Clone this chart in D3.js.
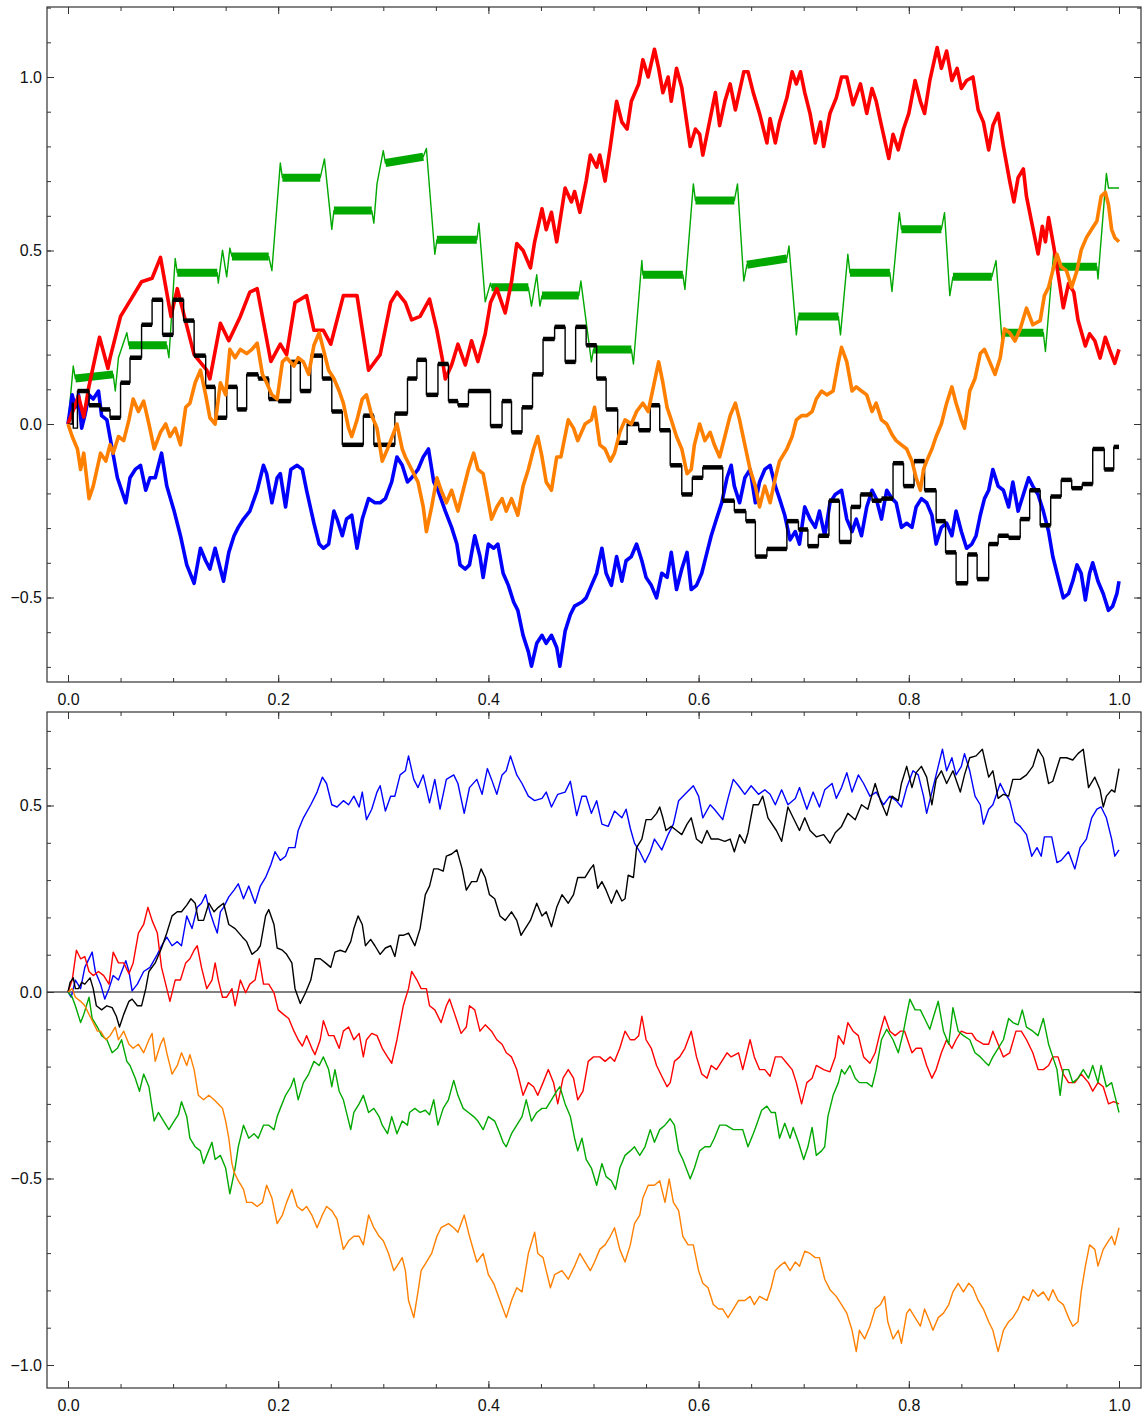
<!DOCTYPE html>
<html>
<head>
<meta charset="utf-8">
<script src="https://cdn.jsdelivr.net/npm/d3@7"></script>
<style>
  body { margin: 0; background: #fff; }
  text { font-family: "Liberation Sans", Arial, sans-serif; }
</style>
</head>
<body>
<div id="chart"></div>
<script>
// Tick values
var xMajor = [0, 0.2, 0.4, 0.6, 0.8, 1.0];
var xMinor = d3.range(0, 21).map(function(i) { return i * 0.05; });
var topYMajor = [-0.5, 0, 0.5, 1.0];
var topYMinor = d3.range(-7, 13).map(function(i) { return i / 10; });
var botYMajor = [-1.0, -0.5, 0, 0.5];
var botYMinor = d3.range(-10, 8).map(function(i) { return i / 10; });

// Top panel series, [t, value]
var topRed = [[0,0],[0.010,0.08],[0.015,0.02],[0.020,0.11],[0.030,0.25],[0.038,0.16],[0.040,0.19],[0.050,0.31],[0.060,0.36],[0.070,0.41],[0.080,0.42],[0.088,0.48],[0.098,0.31],[0.104,0.39],[0.120,0.20],[0.132,0.155],[0.135,0.13],[0.145,0.29],[0.153,0.24],[0.164,0.31],[0.173,0.38],[0.180,0.39],[0.193,0.18],[0.202,0.23],[0.208,0.20],[0.216,0.35],[0.227,0.37],[0.234,0.27],[0.243,0.27],[0.250,0.23],[0.262,0.37],[0.275,0.37],[0.286,0.155],[0.297,0.20],[0.307,0.35],[0.313,0.38],[0.321,0.35],[0.327,0.30],[0.335,0.31],[0.344,0.36],[0.351,0.27],[0.356,0.19],[0.359,0.13],[0.365,0.17],[0.371,0.23],[0.378,0.17],[0.384,0.24],[0.390,0.18],[0.397,0.26],[0.402,0.35],[0.408,0.39],[0.416,0.32],[0.422,0.41],[0.427,0.52],[0.433,0.50],[0.440,0.45],[0.444,0.525],[0.451,0.62],[0.455,0.56],[0.460,0.61],[0.465,0.525],[0.473,0.68],[0.479,0.64],[0.482,0.67],[0.487,0.61],[0.493,0.70],[0.497,0.775],[0.503,0.74],[0.506,0.775],[0.511,0.70],[0.516,0.80],[0.522,0.93],[0.527,0.87],[0.532,0.85],[0.536,0.93],[0.543,0.98],[0.547,1.05],[0.552,1.00],[0.558,1.08],[0.562,1.025],[0.566,0.955],[0.571,1.00],[0.574,0.93],[0.579,1.025],[0.584,0.97],[0.592,0.80],[0.597,0.85],[0.601,0.835],[0.604,0.775],[0.609,0.85],[0.616,0.955],[0.620,0.86],[0.625,0.93],[0.630,0.98],[0.635,0.905],[0.643,1.015],[0.647,1.015],[0.652,0.955],[0.658,0.895],[0.665,0.81],[0.668,0.88],[0.673,0.81],[0.677,0.87],[0.684,0.94],[0.689,1.015],[0.693,0.98],[0.697,1.015],[0.701,0.955],[0.706,0.895],[0.711,0.81],[0.716,0.87],[0.719,0.80],[0.725,0.895],[0.731,0.94],[0.736,1.0],[0.741,1.0],[0.747,0.92],[0.754,0.98],[0.760,0.895],[0.765,0.967],[0.769,0.93],[0.774,0.86],[0.781,0.765],[0.785,0.835],[0.790,0.79],[0.795,0.85],[0.800,0.895],[0.806,0.99],[0.811,0.93],[0.815,0.895],[0.820,0.99],[0.827,1.085],[0.831,1.025],[0.836,1.075],[0.841,0.99],[0.846,1.025],[0.850,0.967],[0.855,0.99],[0.861,1.0],[0.866,0.905],[0.871,0.87],[0.876,0.79],[0.880,0.86],[0.885,0.895],[0.890,0.80],[0.896,0.70],[0.900,0.64],[0.904,0.71],[0.909,0.735],[0.912,0.655],[0.919,0.55],[0.923,0.49],[0.927,0.57],[0.930,0.525],[0.933,0.595],[0.938,0.51],[0.944,0.395],[0.947,0.335],[0.952,0.405],[0.957,0.38],[0.961,0.30],[0.968,0.225],[0.972,0.26],[0.977,0.24],[0.982,0.19],[0.987,0.25],[0.991,0.215],[0.996,0.175],[1.0,0.215]];

var topGreen = [[0,0],[0.005,0.167],[0.007,0.131],[0.043,0.143],[0.045,0.095],[0.048,0.191],[0.056,0.263],[0.058,0.227],[0.094,0.227],[0.096,0.191],[0.102,0.477],[0.104,0.436],[0.142,0.436],[0.143,0.406],[0.147,0.501],[0.151,0.424],[0.154,0.507],[0.156,0.483],[0.191,0.483],[0.194,0.442],[0.202,0.752],[0.204,0.710],[0.240,0.710],[0.244,0.764],[0.251,0.561],[0.253,0.615],[0.289,0.615],[0.291,0.579],[0.294,0.692],[0.300,0.788],[0.302,0.752],[0.338,0.770],[0.341,0.794],[0.349,0.489],[0.351,0.531],[0.389,0.531],[0.391,0.579],[0.397,0.352],[0.402,0.406],[0.403,0.394],[0.438,0.394],[0.441,0.340],[0.446,0.430],[0.449,0.340],[0.451,0.370],[0.486,0.370],[0.488,0.412],[0.498,0.179],[0.500,0.215],[0.536,0.215],[0.538,0.173],[0.546,0.471],[0.547,0.430],[0.585,0.430],[0.587,0.388],[0.595,0.692],[0.597,0.644],[0.634,0.644],[0.637,0.692],[0.643,0.412],[0.646,0.459],[0.684,0.477],[0.686,0.513],[0.693,0.257],[0.695,0.310],[0.733,0.310],[0.735,0.257],[0.742,0.489],[0.744,0.436],[0.782,0.436],[0.784,0.382],[0.791,0.609],[0.793,0.561],[0.831,0.561],[0.834,0.609],[0.839,0.370],[0.842,0.424],[0.879,0.424],[0.883,0.471],[0.889,0.227],[0.891,0.263],[0.928,0.263],[0.930,0.209],[0.938,0.501],[0.940,0.453],[0.979,0.453],[0.980,0.418],[0.988,0.722],[0.990,0.680],[1.0,0.680]];

// black is a step path: each pair is the start of a level
var topBlack = [[0,0],[0.004,0.06],[0.005,-0.012],[0.009,0.095],[0.020,0.054],[0.031,0.042],[0.040,0.018],[0.050,0.119],[0.059,0.191],[0.070,0.286],[0.080,0.358],[0.090,0.257],[0.100,0.358],[0.110,0.298],[0.120,0.197],[0.131,0.107],[0.140,0.018],[0.151,0.107],[0.161,0.042],[0.170,0.143],[0.181,0.131],[0.191,0.072],[0.200,0.066],[0.212,0.179],[0.221,0.095],[0.231,0.197],[0.242,0.131],[0.251,0.036],[0.261,-0.060],[0.281,0.024],[0.291,-0.060],[0.311,0.030],[0.323,0.131],[0.332,0.185],[0.341,0.084],[0.352,0.173],[0.362,0.066],[0.371,0.054],[0.381,0.095],[0.402,-0.006],[0.413,0.066],[0.422,-0.024],[0.432,0.048],[0.442,0.143],[0.452,0.245],[0.463,0.280],[0.473,0.179],[0.483,0.280],[0.493,0.227],[0.503,0.131],[0.512,0.042],[0.523,-0.054],[0.532,0.0],[0.543,-0.018],[0.554,0.054],[0.563,-0.018],[0.573,-0.119],[0.584,-0.203],[0.594,-0.155],[0.604,-0.125],[0.623,-0.221],[0.634,-0.251],[0.645,-0.280],[0.654,-0.382],[0.665,-0.36],[0.684,-0.280],[0.695,-0.304],[0.704,-0.352],[0.714,-0.322],[0.724,-0.221],[0.734,-0.340],[0.745,-0.239],[0.754,-0.203],[0.765,-0.221],[0.774,-0.215],[0.785,-0.113],[0.795,-0.179],[0.805,-0.107],[0.815,-0.191],[0.826,-0.280],[0.835,-0.370],[0.845,-0.459],[0.856,-0.376],[0.865,-0.447],[0.876,-0.346],[0.885,-0.322],[0.895,-0.328],[0.906,-0.274],[0.915,-0.191],[0.925,-0.292],[0.935,-0.209],[0.945,-0.161],[0.955,-0.185],[0.965,-0.173],[0.975,-0.072],[0.986,-0.131],[0.995,-0.066],[1.0,-0.066]];

var topOrange = [[0,0],[0.004,-0.036],[0.009,-0.072],[0.012,-0.131],[0.015,-0.084],[0.020,-0.215],[0.024,-0.179],[0.031,-0.084],[0.036,-0.107],[0.040,-0.060],[0.043,-0.084],[0.048,-0.036],[0.053,-0.048],[0.058,0.012],[0.062,0.072],[0.067,0.036],[0.072,0.066],[0.077,0],[0.082,-0.072],[0.088,-0.024],[0.093,0],[0.097,-0.036],[0.102,-0.012],[0.107,-0.060],[0.112,0.048],[0.116,0.060],[0.121,0.119],[0.126,0.155],[0.131,0.084],[0.135,0.018],[0.140,0],[0.145,0.119],[0.150,0.084],[0.154,0.215],[0.159,0.191],[0.164,0.215],[0.170,0.203],[0.175,0.215],[0.180,0.233],[0.185,0.143],[0.189,0.119],[0.194,0.084],[0.199,0.072],[0.204,0.179],[0.208,0.191],[0.215,0.167],[0.219,0.191],[0.224,0.179],[0.229,0.143],[0.234,0.227],[0.239,0.263],[0.243,0.215],[0.248,0.155],[0.253,0.131],[0.258,0.095],[0.262,0.060],[0.267,-0.012],[0.270,-0.036],[0.275,0.012],[0.280,0.072],[0.284,0.084],[0.289,0.024],[0.294,-0.012],[0.299,-0.107],[0.304,-0.072],[0.310,-0.024],[0.313,0],[0.318,-0.072],[0.321,-0.095],[0.327,-0.131],[0.333,-0.167],[0.338,-0.239],[0.341,-0.310],[0.346,-0.239],[0.351,-0.155],[0.355,-0.191],[0.360,-0.227],[0.365,-0.191],[0.371,-0.251],[0.376,-0.191],[0.381,-0.131],[0.386,-0.084],[0.390,-0.131],[0.395,-0.143],[0.398,-0.191],[0.403,-0.274],[0.408,-0.239],[0.413,-0.215],[0.417,-0.251],[0.422,-0.215],[0.428,-0.263],[0.433,-0.179],[0.438,-0.131],[0.443,-0.072],[0.447,-0.036],[0.451,-0.095],[0.455,-0.167],[0.460,-0.191],[0.465,-0.095],[0.469,-0.095],[0.476,0.012],[0.481,-0.012],[0.485,-0.048],[0.492,0],[0.498,0.012],[0.501,0.048],[0.506,-0.060],[0.511,-0.072],[0.516,-0.107],[0.520,-0.084],[0.525,-0.024],[0.530,0.012],[0.536,0],[0.541,0.036],[0.547,0.060],[0.552,0.036],[0.557,0.107],[0.562,0.179],[0.566,0.119],[0.570,0.048],[0.574,0.012],[0.579,-0.036],[0.584,-0.072],[0.589,-0.143],[0.593,-0.131],[0.596,-0.060],[0.601,0],[0.606,-0.048],[0.611,-0.024],[0.615,-0.060],[0.620,-0.095],[0.625,-0.036],[0.630,0.024],[0.635,0.060],[0.639,0.012],[0.644,-0.060],[0.649,-0.131],[0.654,-0.179],[0.658,-0.239],[0.663,-0.179],[0.668,-0.227],[0.673,-0.155],[0.677,-0.107],[0.684,-0.072],[0.689,-0.036],[0.693,0.012],[0.698,0.024],[0.703,0.024],[0.708,0.036],[0.712,0.072],[0.717,0.095],[0.722,0.084],[0.728,0.095],[0.733,0.179],[0.736,0.221],[0.741,0.179],[0.746,0.095],[0.750,0.107],[0.755,0.095],[0.760,0.084],[0.765,0.036],[0.769,0.060],[0.774,0.012],[0.779,0],[0.784,-0.030],[0.788,-0.048],[0.793,-0.060],[0.798,-0.072],[0.803,-0.107],[0.807,-0.155],[0.811,-0.191],[0.814,-0.131],[0.817,-0.107],[0.822,-0.072],[0.826,-0.036],[0.831,0],[0.836,0.060],[0.841,0.107],[0.845,0.060],[0.850,0.012],[0.853,-0.012],[0.858,0.095],[0.863,0.131],[0.868,0.203],[0.872,0.215],[0.877,0.179],[0.882,0.143],[0.887,0.191],[0.891,0.274],[0.896,0.263],[0.901,0.239],[0.906,0.274],[0.912,0.334],[0.918,0.286],[0.925,0.298],[0.929,0.370],[0.933,0.394],[0.937,0.442],[0.941,0.489],[0.945,0.453],[0.950,0.442],[0.955,0.394],[0.960,0.442],[0.964,0.501],[0.969,0.537],[0.974,0.561],[0.979,0.585],[0.983,0.656],[0.987,0.668],[0.990,0.632],[0.993,0.561],[0.996,0.537],[1.0,0.525]];

var topBlue = [[0,0],[0.004,0.084],[0.007,0.048],[0.010,0.084],[0.013,-0.012],[0.016,0.024],[0.020,0.084],[0.024,0.072],[0.029,0.095],[0.032,0.024],[0.037,0.012],[0.042,-0.072],[0.047,-0.155],[0.051,-0.191],[0.055,-0.227],[0.059,-0.155],[0.064,-0.131],[0.069,-0.119],[0.074,-0.191],[0.078,-0.155],[0.083,-0.155],[0.089,-0.084],[0.094,-0.179],[0.101,-0.251],[0.107,-0.322],[0.113,-0.406],[0.120,-0.459],[0.126,-0.358],[0.131,-0.394],[0.135,-0.418],[0.140,-0.358],[0.143,-0.394],[0.148,-0.453],[0.153,-0.370],[0.158,-0.322],[0.162,-0.298],[0.167,-0.274],[0.173,-0.251],[0.180,-0.191],[0.186,-0.119],[0.189,-0.143],[0.194,-0.227],[0.199,-0.155],[0.202,-0.143],[0.207,-0.239],[0.212,-0.131],[0.218,-0.119],[0.223,-0.131],[0.227,-0.191],[0.234,-0.286],[0.239,-0.346],[0.243,-0.358],[0.248,-0.346],[0.253,-0.251],[0.256,-0.274],[0.261,-0.322],[0.265,-0.274],[0.270,-0.263],[0.275,-0.358],[0.280,-0.274],[0.286,-0.215],[0.292,-0.227],[0.297,-0.227],[0.302,-0.215],[0.308,-0.167],[0.313,-0.095],[0.318,-0.119],[0.323,-0.167],[0.327,-0.155],[0.333,-0.131],[0.338,-0.095],[0.343,-0.072],[0.348,-0.167],[0.352,-0.191],[0.359,-0.251],[0.365,-0.298],[0.370,-0.346],[0.373,-0.406],[0.378,-0.418],[0.382,-0.406],[0.387,-0.322],[0.392,-0.382],[0.395,-0.442],[0.400,-0.346],[0.405,-0.358],[0.409,-0.346],[0.414,-0.430],[0.419,-0.465],[0.424,-0.513],[0.428,-0.537],[0.433,-0.609],[0.438,-0.656],[0.441,-0.698],[0.446,-0.632],[0.451,-0.609],[0.455,-0.632],[0.460,-0.609],[0.465,-0.644],[0.468,-0.698],[0.473,-0.597],[0.478,-0.549],[0.482,-0.525],[0.489,-0.513],[0.493,-0.501],[0.498,-0.465],[0.503,-0.430],[0.508,-0.358],[0.512,-0.430],[0.517,-0.465],[0.522,-0.382],[0.527,-0.453],[0.531,-0.394],[0.536,-0.382],[0.541,-0.346],[0.546,-0.394],[0.550,-0.442],[0.555,-0.465],[0.560,-0.501],[0.565,-0.430],[0.570,-0.442],[0.574,-0.370],[0.579,-0.477],[0.584,-0.418],[0.589,-0.370],[0.593,-0.477],[0.598,-0.465],[0.603,-0.430],[0.608,-0.370],[0.612,-0.322],[0.617,-0.274],[0.622,-0.227],[0.627,-0.155],[0.631,-0.119],[0.634,-0.179],[0.639,-0.227],[0.644,-0.155],[0.649,-0.131],[0.654,-0.227],[0.658,-0.167],[0.663,-0.131],[0.668,-0.119],[0.673,-0.179],[0.677,-0.215],[0.682,-0.263],[0.687,-0.334],[0.692,-0.310],[0.696,-0.346],[0.701,-0.239],[0.706,-0.274],[0.711,-0.298],[0.715,-0.251],[0.720,-0.322],[0.725,-0.227],[0.730,-0.203],[0.736,-0.191],[0.741,-0.274],[0.746,-0.310],[0.750,-0.274],[0.755,-0.322],[0.760,-0.239],[0.765,-0.191],[0.769,-0.215],[0.774,-0.274],[0.779,-0.191],[0.784,-0.215],[0.788,-0.227],[0.793,-0.298],[0.798,-0.286],[0.803,-0.298],[0.807,-0.239],[0.812,-0.215],[0.817,-0.227],[0.822,-0.263],[0.826,-0.346],[0.831,-0.298],[0.836,-0.286],[0.841,-0.322],[0.845,-0.251],[0.850,-0.310],[0.855,-0.358],[0.860,-0.346],[0.864,-0.322],[0.868,-0.263],[0.872,-0.215],[0.876,-0.191],[0.880,-0.131],[0.885,-0.179],[0.890,-0.191],[0.895,-0.239],[0.899,-0.167],[0.904,-0.251],[0.909,-0.203],[0.914,-0.155],[0.918,-0.179],[0.923,-0.203],[0.928,-0.251],[0.933,-0.310],[0.937,-0.382],[0.942,-0.442],[0.947,-0.501],[0.952,-0.489],[0.956,-0.453],[0.960,-0.406],[0.964,-0.430],[0.968,-0.507],[0.972,-0.430],[0.975,-0.400],[0.980,-0.453],[0.985,-0.489],[0.990,-0.537],[0.994,-0.525],[0.998,-0.489],[1.0,-0.453]];

// Bottom panel series, [t, value]
var botBlue = [[0,0],[0.003,-0.014],[0.007,0.032],[0.012,0.009],[0.016,0.066],[0.023,0.107],[0.026,0.055],[0.031,0.021],[0.035,-0.019],[0.039,0.009],[0.043,0.044],[0.048,0.032],[0.055,0.084],[0.058,0.055],[0.061,0.003],[0.066,0.021],[0.072,0.055],[0.078,0.066],[0.085,0.101],[0.089,0.124],[0.094,0.147],[0.099,0.124],[0.104,0.135],[0.108,0.124],[0.113,0.204],[0.118,0.170],[0.123,0.227],[0.127,0.238],[0.131,0.261],[0.135,0.215],[0.139,0.181],[0.142,0.158],[0.145,0.215],[0.148,0.227],[0.153,0.255],[0.158,0.273],[0.162,0.290],[0.167,0.250],[0.172,0.284],[0.178,0.238],[0.183,0.284],[0.188,0.307],[0.193,0.341],[0.197,0.376],[0.202,0.353],[0.207,0.364],[0.210,0.387],[0.216,0.387],[0.219,0.433],[0.224,0.467],[0.231,0.502],[0.237,0.536],[0.242,0.576],[0.246,0.559],[0.251,0.502],[0.256,0.496],[0.262,0.513],[0.267,0.502],[0.272,0.525],[0.277,0.496],[0.280,0.536],[0.284,0.462],[0.289,0.490],[0.294,0.536],[0.297,0.553],[0.302,0.485],[0.307,0.525],[0.311,0.525],[0.316,0.582],[0.321,0.593],[0.324,0.633],[0.329,0.570],[0.333,0.548],[0.338,0.582],[0.344,0.507],[0.349,0.570],[0.354,0.490],[0.360,0.570],[0.367,0.582],[0.371,0.559],[0.377,0.479],[0.382,0.548],[0.389,0.570],[0.394,0.530],[0.399,0.599],[0.403,0.570],[0.408,0.530],[0.413,0.582],[0.417,0.593],[0.421,0.633],[0.427,0.582],[0.432,0.559],[0.438,0.525],[0.444,0.513],[0.451,0.519],[0.455,0.536],[0.460,0.496],[0.466,0.530],[0.473,0.536],[0.478,0.565],[0.484,0.473],[0.489,0.525],[0.493,0.525],[0.498,0.479],[0.503,0.513],[0.508,0.450],[0.514,0.444],[0.520,0.485],[0.527,0.467],[0.531,0.490],[0.535,0.439],[0.539,0.399],[0.544,0.376],[0.549,0.347],[0.554,0.376],[0.558,0.410],[0.565,0.381],[0.571,0.422],[0.576,0.450],[0.581,0.513],[0.587,0.530],[0.595,0.553],[0.600,0.525],[0.604,0.467],[0.611,0.502],[0.615,0.490],[0.623,0.462],[0.628,0.519],[0.633,0.570],[0.638,0.553],[0.644,0.530],[0.650,0.553],[0.657,0.530],[0.663,0.542],[0.668,0.530],[0.673,0.502],[0.679,0.542],[0.685,0.502],[0.692,0.519],[0.696,0.548],[0.703,0.490],[0.709,0.536],[0.715,0.496],[0.720,0.542],[0.727,0.559],[0.731,0.519],[0.736,0.548],[0.741,0.588],[0.746,0.536],[0.752,0.582],[0.757,0.559],[0.763,0.525],[0.769,0.536],[0.776,0.502],[0.782,0.525],[0.788,0.513],[0.793,0.496],[0.798,0.548],[0.804,0.593],[0.809,0.582],[0.814,0.525],[0.817,0.479],[0.823,0.548],[0.828,0.605],[0.832,0.651],[0.836,0.593],[0.841,0.628],[0.845,0.582],[0.850,0.605],[0.853,0.639],[0.858,0.593],[0.863,0.525],[0.868,0.502],[0.871,0.450],[0.876,0.490],[0.880,0.502],[0.887,0.559],[0.891,0.536],[0.896,0.513],[0.901,0.456],[0.906,0.444],[0.912,0.422],[0.917,0.364],[0.922,0.387],[0.926,0.364],[0.929,0.416],[0.936,0.416],[0.941,0.347],[0.945,0.353],[0.952,0.376],[0.958,0.330],[0.963,0.387],[0.969,0.410],[0.974,0.467],[0.979,0.490],[0.983,0.496],[0.988,0.467],[0.993,0.410],[0.996,0.364],[1.0,0.381]];

var botBlack = [[0,0],[0.002,0.026],[0.005,0.038],[0.007,0.009],[0.010,0.009],[0.013,0.026],[0.016,0.021],[0.021,0.038],[0.024,0.009],[0.027,-0.037],[0.032,-0.048],[0.037,-0.037],[0.042,-0.042],[0.046,-0.065],[0.049,-0.094],[0.053,-0.060],[0.058,-0.025],[0.061,-0.019],[0.066,-0.037],[0.070,-0.037],[0.074,0.009],[0.077,0.055],[0.083,0.078],[0.089,0.118],[0.094,0.158],[0.099,0.204],[0.104,0.215],[0.108,0.215],[0.113,0.233],[0.117,0.250],[0.121,0.238],[0.124,0.192],[0.129,0.192],[0.134,0.238],[0.139,0.215],[0.143,0.227],[0.148,0.238],[0.153,0.181],[0.159,0.170],[0.166,0.147],[0.170,0.135],[0.175,0.101],[0.180,0.112],[0.183,0.124],[0.188,0.204],[0.191,0.221],[0.196,0.181],[0.199,0.118],[0.204,0.112],[0.208,0.101],[0.213,0.078],[0.216,0.009],[0.221,-0.031],[0.226,-0.002],[0.231,0.032],[0.235,0.089],[0.240,0.089],[0.245,0.078],[0.250,0.066],[0.254,0.107],[0.259,0.112],[0.264,0.107],[0.269,0.135],[0.272,0.170],[0.276,0.204],[0.280,0.181],[0.283,0.124],[0.288,0.141],[0.292,0.124],[0.297,0.101],[0.302,0.118],[0.307,0.124],[0.311,0.095],[0.315,0.152],[0.319,0.152],[0.324,0.158],[0.330,0.124],[0.335,0.170],[0.340,0.261],[0.344,0.284],[0.348,0.330],[0.352,0.330],[0.357,0.324],[0.360,0.364],[0.365,0.370],[0.370,0.381],[0.375,0.330],[0.379,0.273],[0.384,0.296],[0.389,0.296],[0.393,0.330],[0.397,0.307],[0.401,0.261],[0.406,0.250],[0.411,0.204],[0.416,0.192],[0.422,0.215],[0.427,0.192],[0.431,0.152],[0.435,0.170],[0.440,0.192],[0.446,0.238],[0.451,0.204],[0.455,0.215],[0.460,0.175],[0.465,0.227],[0.470,0.261],[0.476,0.238],[0.481,0.261],[0.485,0.307],[0.492,0.307],[0.497,0.330],[0.500,0.341],[0.504,0.278],[0.508,0.296],[0.512,0.273],[0.517,0.238],[0.522,0.273],[0.527,0.244],[0.530,0.250],[0.533,0.313],[0.538,0.307],[0.541,0.387],[0.546,0.410],[0.550,0.462],[0.555,0.462],[0.560,0.479],[0.563,0.496],[0.566,0.467],[0.569,0.433],[0.574,0.444],[0.579,0.433],[0.584,0.422],[0.589,0.450],[0.593,0.467],[0.598,0.410],[0.603,0.399],[0.608,0.433],[0.612,0.410],[0.619,0.410],[0.625,0.404],[0.630,0.410],[0.634,0.376],[0.639,0.422],[0.644,0.399],[0.647,0.427],[0.652,0.502],[0.657,0.502],[0.661,0.525],[0.666,0.467],[0.674,0.433],[0.679,0.404],[0.685,0.496],[0.690,0.467],[0.696,0.433],[0.701,0.467],[0.706,0.433],[0.712,0.416],[0.719,0.422],[0.725,0.399],[0.730,0.427],[0.736,0.444],[0.742,0.479],[0.749,0.462],[0.755,0.502],[0.761,0.490],[0.768,0.559],[0.773,0.513],[0.779,0.473],[0.784,0.525],[0.790,0.513],[0.793,0.559],[0.798,0.605],[0.803,0.548],[0.807,0.588],[0.812,0.605],[0.817,0.576],[0.822,0.502],[0.826,0.570],[0.831,0.593],[0.836,0.559],[0.842,0.593],[0.849,0.536],[0.853,0.582],[0.858,0.628],[0.864,0.633],[0.870,0.651],[0.876,0.576],[0.880,0.593],[0.885,0.519],[0.890,0.530],[0.895,0.525],[0.899,0.570],[0.906,0.570],[0.912,0.582],[0.918,0.605],[0.923,0.651],[0.928,0.628],[0.933,0.559],[0.937,0.565],[0.944,0.628],[0.950,0.628],[0.956,0.622],[0.961,0.639],[0.966,0.651],[0.971,0.548],[0.977,0.576],[0.982,0.542],[0.985,0.496],[0.988,0.525],[0.993,0.542],[0.996,0.536],[1.0,0.599]];

var botRed = [[0,0],[0.004,0.032],[0.008,0.112],[0.012,0.089],[0.016,0.095],[0.020,0.055],[0.024,0.044],[0.029,0.055],[0.034,0.044],[0.039,0.021],[0.043,0.107],[0.048,0.078],[0.053,0.078],[0.058,0.049],[0.062,0.078],[0.067,0.158],[0.072,0.181],[0.076,0.227],[0.080,0.192],[0.085,0.158],[0.089,0.066],[0.094,0.009],[0.097,-0.025],[0.102,0.032],[0.107,0.032],[0.112,0.078],[0.116,0.089],[0.120,0.112],[0.123,0.124],[0.127,0.066],[0.132,0.009],[0.137,0.032],[0.140,0.078],[0.143,0.032],[0.147,-0.014],[0.151,-0.014],[0.156,0.009],[0.159,-0.037],[0.164,0.032],[0.169,-0.002],[0.173,0.021],[0.178,0.032],[0.182,0.089],[0.186,0.021],[0.191,0.021],[0.196,-0.002],[0.200,-0.048],[0.205,-0.060],[0.210,-0.071],[0.215,-0.105],[0.219,-0.128],[0.223,-0.145],[0.227,-0.117],[0.232,-0.151],[0.235,-0.168],[0.240,-0.128],[0.243,-0.077],[0.248,-0.117],[0.253,-0.117],[0.258,-0.151],[0.262,-0.105],[0.267,-0.094],[0.272,-0.128],[0.277,-0.111],[0.281,-0.174],[0.284,-0.128],[0.289,-0.111],[0.294,-0.117],[0.299,-0.151],[0.304,-0.174],[0.308,-0.191],[0.313,-0.128],[0.316,-0.082],[0.319,-0.037],[0.324,0.009],[0.327,0.055],[0.332,0.032],[0.336,0.009],[0.341,0.009],[0.344,-0.037],[0.349,-0.048],[0.355,-0.082],[0.360,-0.037],[0.363,-0.019],[0.368,-0.060],[0.374,-0.111],[0.379,-0.094],[0.382,-0.037],[0.387,-0.048],[0.392,-0.105],[0.397,-0.088],[0.403,-0.105],[0.408,-0.128],[0.413,-0.140],[0.417,-0.163],[0.422,-0.174],[0.427,-0.208],[0.433,-0.277],[0.438,-0.243],[0.443,-0.254],[0.447,-0.277],[0.452,-0.243],[0.457,-0.208],[0.462,-0.243],[0.466,-0.300],[0.471,-0.231],[0.476,-0.208],[0.481,-0.231],[0.485,-0.289],[0.490,-0.266],[0.495,-0.186],[0.500,-0.174],[0.506,-0.174],[0.511,-0.186],[0.516,-0.174],[0.520,-0.186],[0.525,-0.151],[0.530,-0.105],[0.535,-0.128],[0.539,-0.128],[0.543,-0.117],[0.546,-0.065],[0.550,-0.128],[0.555,-0.151],[0.560,-0.197],[0.565,-0.226],[0.570,-0.254],[0.573,-0.243],[0.577,-0.186],[0.582,-0.174],[0.587,-0.151],[0.593,-0.105],[0.598,-0.174],[0.603,-0.220],[0.608,-0.231],[0.612,-0.197],[0.617,-0.208],[0.622,-0.186],[0.627,-0.163],[0.631,-0.174],[0.638,-0.163],[0.642,-0.208],[0.649,-0.128],[0.653,-0.174],[0.658,-0.208],[0.663,-0.208],[0.668,-0.226],[0.673,-0.174],[0.679,-0.174],[0.684,-0.191],[0.689,-0.208],[0.693,-0.243],[0.698,-0.300],[0.703,-0.243],[0.708,-0.231],[0.712,-0.197],[0.719,-0.208],[0.725,-0.214],[0.730,-0.174],[0.733,-0.117],[0.738,-0.140],[0.742,-0.082],[0.747,-0.105],[0.752,-0.117],[0.757,-0.174],[0.763,-0.191],[0.768,-0.163],[0.773,-0.105],[0.777,-0.065],[0.782,-0.105],[0.787,-0.117],[0.792,-0.105],[0.796,-0.105],[0.803,-0.163],[0.807,-0.151],[0.812,-0.151],[0.817,-0.197],[0.822,-0.231],[0.826,-0.208],[0.831,-0.163],[0.836,-0.128],[0.841,-0.151],[0.845,-0.128],[0.850,-0.105],[0.855,-0.111],[0.860,-0.111],[0.864,-0.128],[0.871,-0.140],[0.876,-0.140],[0.880,-0.105],[0.885,-0.140],[0.890,-0.174],[0.896,-0.163],[0.902,-0.105],[0.907,-0.105],[0.912,-0.128],[0.918,-0.163],[0.923,-0.208],[0.928,-0.208],[0.933,-0.197],[0.937,-0.174],[0.942,-0.174],[0.947,-0.220],[0.952,-0.243],[0.958,-0.243],[0.964,-0.220],[0.971,-0.243],[0.975,-0.266],[0.980,-0.243],[0.985,-0.254],[0.990,-0.300],[0.995,-0.294],[1.0,-0.300]];

var botGreen = [[0,0],[0.004,-0.014],[0.007,-0.037],[0.012,-0.082],[0.015,-0.060],[0.020,-0.014],[0.023,-0.071],[0.028,-0.094],[0.032,-0.117],[0.037,-0.128],[0.042,-0.163],[0.047,-0.151],[0.051,-0.128],[0.056,-0.186],[0.059,-0.197],[0.064,-0.231],[0.068,-0.266],[0.072,-0.220],[0.077,-0.254],[0.082,-0.346],[0.086,-0.323],[0.091,-0.346],[0.096,-0.369],[0.101,-0.346],[0.105,-0.329],[0.108,-0.294],[0.113,-0.334],[0.116,-0.392],[0.121,-0.415],[0.126,-0.426],[0.129,-0.460],[0.132,-0.438],[0.137,-0.403],[0.140,-0.449],[0.145,-0.438],[0.150,-0.472],[0.154,-0.541],[0.159,-0.472],[0.162,-0.415],[0.167,-0.357],[0.172,-0.392],[0.177,-0.380],[0.181,-0.392],[0.186,-0.357],[0.191,-0.357],[0.196,-0.369],[0.199,-0.334],[0.202,-0.312],[0.207,-0.277],[0.212,-0.254],[0.215,-0.231],[0.219,-0.289],[0.224,-0.243],[0.229,-0.220],[0.234,-0.186],[0.239,-0.197],[0.243,-0.174],[0.248,-0.208],[0.251,-0.254],[0.254,-0.208],[0.258,-0.266],[0.262,-0.289],[0.269,-0.369],[0.272,-0.323],[0.277,-0.300],[0.281,-0.277],[0.286,-0.323],[0.291,-0.312],[0.296,-0.334],[0.299,-0.357],[0.304,-0.380],[0.308,-0.334],[0.313,-0.380],[0.318,-0.346],[0.323,-0.357],[0.325,-0.323],[0.330,-0.312],[0.335,-0.323],[0.340,-0.317],[0.344,-0.329],[0.348,-0.289],[0.352,-0.357],[0.357,-0.312],[0.362,-0.289],[0.367,-0.237],[0.371,-0.277],[0.376,-0.312],[0.381,-0.323],[0.386,-0.334],[0.390,-0.346],[0.395,-0.369],[0.400,-0.334],[0.406,-0.346],[0.411,-0.380],[0.414,-0.403],[0.417,-0.415],[0.422,-0.380],[0.427,-0.357],[0.432,-0.334],[0.436,-0.289],[0.441,-0.346],[0.446,-0.323],[0.451,-0.312],[0.455,-0.312],[0.460,-0.289],[0.465,-0.266],[0.468,-0.254],[0.473,-0.300],[0.478,-0.334],[0.482,-0.392],[0.485,-0.426],[0.489,-0.392],[0.493,-0.449],[0.498,-0.472],[0.503,-0.518],[0.508,-0.460],[0.512,-0.495],[0.517,-0.506],[0.521,-0.529],[0.525,-0.472],[0.530,-0.438],[0.535,-0.426],[0.539,-0.415],[0.544,-0.438],[0.549,-0.415],[0.554,-0.369],[0.558,-0.403],[0.563,-0.369],[0.568,-0.357],[0.573,-0.340],[0.577,-0.357],[0.581,-0.426],[0.585,-0.449],[0.592,-0.501],[0.596,-0.472],[0.601,-0.426],[0.606,-0.415],[0.611,-0.415],[0.615,-0.392],[0.620,-0.357],[0.626,-0.357],[0.633,-0.369],[0.638,-0.369],[0.642,-0.369],[0.647,-0.415],[0.652,-0.380],[0.655,-0.357],[0.660,-0.317],[0.665,-0.306],[0.669,-0.323],[0.673,-0.323],[0.677,-0.392],[0.682,-0.352],[0.687,-0.392],[0.690,-0.363],[0.695,-0.403],[0.700,-0.449],[0.704,-0.415],[0.708,-0.363],[0.712,-0.438],[0.717,-0.426],[0.720,-0.415],[0.723,-0.334],[0.728,-0.277],[0.733,-0.243],[0.736,-0.208],[0.739,-0.220],[0.744,-0.197],[0.749,-0.231],[0.753,-0.243],[0.760,-0.243],[0.765,-0.254],[0.769,-0.208],[0.774,-0.128],[0.779,-0.100],[0.785,-0.128],[0.790,-0.163],[0.795,-0.105],[0.798,-0.060],[0.801,-0.019],[0.806,-0.048],[0.811,-0.048],[0.815,-0.071],[0.820,-0.100],[0.823,-0.071],[0.828,-0.025],[0.833,-0.105],[0.838,-0.140],[0.842,-0.042],[0.847,-0.105],[0.852,-0.117],[0.858,-0.128],[0.863,-0.163],[0.868,-0.174],[0.872,-0.186],[0.876,-0.197],[0.880,-0.174],[0.885,-0.151],[0.890,-0.128],[0.895,-0.071],[0.899,-0.082],[0.904,-0.088],[0.908,-0.048],[0.912,-0.094],[0.918,-0.105],[0.923,-0.117],[0.928,-0.071],[0.933,-0.140],[0.937,-0.174],[0.941,-0.208],[0.944,-0.277],[0.947,-0.208],[0.952,-0.208],[0.956,-0.243],[0.961,-0.231],[0.966,-0.208],[0.971,-0.231],[0.975,-0.197],[0.980,-0.243],[0.983,-0.197],[0.988,-0.254],[0.993,-0.243],[0.996,-0.277],[1.0,-0.323]];

var botOrange = [[0,0],[0.004,0.009],[0.007,-0.014],[0.012,-0.025],[0.016,-0.037],[0.020,-0.060],[0.024,-0.082],[0.028,-0.105],[0.031,-0.105],[0.036,-0.128],[0.040,-0.117],[0.045,-0.094],[0.048,-0.128],[0.053,-0.105],[0.058,-0.140],[0.062,-0.151],[0.067,-0.140],[0.072,-0.163],[0.077,-0.128],[0.080,-0.111],[0.083,-0.186],[0.088,-0.140],[0.091,-0.123],[0.094,-0.163],[0.099,-0.220],[0.104,-0.197],[0.108,-0.163],[0.113,-0.197],[0.116,-0.168],[0.120,-0.208],[0.124,-0.277],[0.129,-0.289],[0.134,-0.277],[0.139,-0.289],[0.143,-0.300],[0.147,-0.312],[0.150,-0.346],[0.153,-0.392],[0.156,-0.460],[0.158,-0.483],[0.162,-0.506],[0.167,-0.529],[0.170,-0.564],[0.175,-0.564],[0.180,-0.575],[0.185,-0.564],[0.189,-0.518],[0.194,-0.552],[0.199,-0.621],[0.204,-0.598],[0.208,-0.564],[0.213,-0.529],[0.218,-0.575],[0.223,-0.586],[0.227,-0.575],[0.232,-0.598],[0.237,-0.632],[0.242,-0.598],[0.246,-0.575],[0.251,-0.586],[0.256,-0.609],[0.262,-0.690],[0.267,-0.667],[0.272,-0.655],[0.277,-0.655],[0.281,-0.678],[0.286,-0.598],[0.291,-0.632],[0.296,-0.655],[0.300,-0.667],[0.305,-0.701],[0.310,-0.747],[0.313,-0.735],[0.318,-0.712],[0.321,-0.747],[0.324,-0.827],[0.329,-0.873],[0.333,-0.804],[0.336,-0.747],[0.341,-0.724],[0.346,-0.701],[0.351,-0.655],[0.355,-0.632],[0.362,-0.621],[0.367,-0.632],[0.371,-0.644],[0.377,-0.598],[0.382,-0.655],[0.389,-0.724],[0.395,-0.701],[0.400,-0.758],[0.405,-0.781],[0.411,-0.827],[0.417,-0.873],[0.422,-0.827],[0.427,-0.793],[0.432,-0.804],[0.438,-0.701],[0.444,-0.644],[0.447,-0.701],[0.452,-0.712],[0.459,-0.793],[0.463,-0.758],[0.470,-0.747],[0.476,-0.770],[0.482,-0.735],[0.487,-0.701],[0.492,-0.724],[0.497,-0.747],[0.501,-0.724],[0.506,-0.690],[0.511,-0.678],[0.516,-0.655],[0.520,-0.632],[0.525,-0.690],[0.530,-0.724],[0.535,-0.678],[0.539,-0.621],[0.544,-0.598],[0.547,-0.552],[0.552,-0.518],[0.558,-0.518],[0.563,-0.506],[0.568,-0.564],[0.572,-0.501],[0.576,-0.564],[0.581,-0.586],[0.585,-0.655],[0.590,-0.678],[0.595,-0.678],[0.600,-0.747],[0.604,-0.781],[0.609,-0.793],[0.614,-0.838],[0.619,-0.850],[0.623,-0.850],[0.628,-0.873],[0.633,-0.850],[0.638,-0.827],[0.644,-0.827],[0.649,-0.816],[0.653,-0.838],[0.658,-0.816],[0.665,-0.827],[0.669,-0.793],[0.673,-0.747],[0.677,-0.735],[0.682,-0.724],[0.687,-0.747],[0.692,-0.724],[0.696,-0.735],[0.701,-0.695],[0.706,-0.701],[0.711,-0.712],[0.715,-0.712],[0.720,-0.770],[0.725,-0.798],[0.731,-0.816],[0.736,-0.838],[0.741,-0.861],[0.746,-0.907],[0.750,-0.964],[0.753,-0.907],[0.758,-0.930],[0.763,-0.896],[0.768,-0.850],[0.773,-0.838],[0.777,-0.816],[0.780,-0.884],[0.785,-0.930],[0.790,-0.907],[0.793,-0.942],[0.798,-0.861],[0.801,-0.850],[0.806,-0.873],[0.811,-0.896],[0.815,-0.850],[0.820,-0.884],[0.823,-0.907],[0.828,-0.873],[0.833,-0.861],[0.838,-0.838],[0.842,-0.804],[0.847,-0.781],[0.852,-0.804],[0.857,-0.781],[0.861,-0.793],[0.866,-0.827],[0.871,-0.850],[0.876,-0.884],[0.880,-0.907],[0.885,-0.964],[0.890,-0.907],[0.895,-0.884],[0.899,-0.873],[0.904,-0.850],[0.909,-0.816],[0.914,-0.827],[0.918,-0.798],[0.923,-0.816],[0.928,-0.804],[0.933,-0.827],[0.937,-0.798],[0.942,-0.827],[0.947,-0.838],[0.952,-0.873],[0.956,-0.896],[0.961,-0.884],[0.964,-0.804],[0.968,-0.735],[0.972,-0.678],[0.977,-0.690],[0.980,-0.735],[0.985,-0.690],[0.990,-0.667],[0.993,-0.655],[0.996,-0.678],[1.0,-0.632]];

// Layout
var width = 1143, height = 1416;
var frameLeft = 47, frameRight = 1141;

var svg = d3.select("#chart")
    .append("svg")
    .attr("width", width)
    .attr("height", height);

var x = d3.scaleLinear().domain([0, 1]).range([68, 1119]);

// style: "band" = jittery thick line, "plateau" = thin line with thick flat levels, "step" = step levels
var panels = [
    { top: 7, bottom: 682, y: d3.scaleLinear().domain([0, 1]).range([424, 77]),
      yMajor: topYMajor, yMinor: topYMinor, zeroLine: false,
      series: [
        { data: topGreen, color: "#00a800", style: "plateau" },
        { data: topBlue, color: "#0000ff", style: "band" },
        { data: topRed, color: "#ff0000", style: "band" },
        { data: topBlack, color: "#000000", style: "step" },
        { data: topOrange, color: "#ff8000", style: "band" }
      ] },
    { top: 712, bottom: 1388, y: d3.scaleLinear().domain([0, -1]).range([992, 1365]),
      yMajor: botYMajor, yMinor: botYMinor, zeroLine: true,
      series: [
        { data: botBlue, color: "#0000ff", style: "thin" },
        { data: botRed, color: "#ff0000", style: "thin" },
        { data: botGreen, color: "#00a800", style: "thin" },
        { data: botBlack, color: "#000000", style: "thin" },
        { data: botOrange, color: "#ff8000", style: "thin" }
      ] }
];

function fmt(d) {
    var s = Math.abs(d).toFixed(1);
    return d < 0 ? "\u2212" + s : s;
}

panels.forEach(function(p) {
    var g = svg.append("g");
    var y = p.y;

    if (p.zeroLine) {
        g.append("line")
            .attr("x1", frameLeft).attr("x2", frameRight)
            .attr("y1", y(0)).attr("y2", y(0))
            .attr("stroke", "#000").attr("stroke-width", 1);
    }

    p.series.forEach(function(s) {
        var line = d3.line()
            .x(function(d) { return x(d[0]); })
            .y(function(d) { return y(d[1]); })
            .curve(s.style === "step" ? d3.curveStepAfter : d3.curveLinear);
        var w = { band: 3.6, plateau: 1.4, step: 1.4, thin: 1.4 }[s.style];

        g.append("path")
            .datum(s.data)
            .attr("fill", "none")
            .attr("stroke", s.color)
            .attr("stroke-width", w)
            .attr("stroke-linejoin", "round")
            .attr("d", line);

        // flat levels drawn as thick bands
        if (s.style === "plateau" || s.style === "step") {
            var levels = [];
            for (var i = 0; i < s.data.length - 1; i++) {
                var a = s.data[i], b = s.data[i + 1];
                if (s.style === "step") {
                    if (b[0] - a[0] > 0.004) levels.push([a, [b[0], a[1]]]);
                } else if (b[0] - a[0] > 0.02) {
                    levels.push([a, b]);
                }
            }
            g.selectAll(null)
                .data(levels)
                .enter().append("line")
                .attr("x1", function(d) { return x(d[0][0]); })
                .attr("y1", function(d) { return y(d[0][1]); })
                .attr("x2", function(d) { return x(d[1][0]); })
                .attr("y2", function(d) { return y(d[1][1]); })
                .attr("stroke", s.color)
                .attr("stroke-width", s.style === "step" ? 4.5 : 8);
        }
    });

    // frame ticks (inward), minor then major
    function addAxis(axis, transform, values, size, labels, pad) {
        var a = g.append("g")
            .attr("transform", transform)
            .attr("color", "#333")
            .call(axis.tickValues(values).tickSize(-size).tickPadding(pad)
                .tickFormat(labels ? fmt : function() { return ""; }));
        a.select(".domain").remove();
        a.selectAll("text")
            .attr("fill", "#111")
            .style("font-size", "16px")
            .style("font-family", "'Liberation Sans', Arial, sans-serif");
    }

    addAxis(d3.axisBottom(x), "translate(0," + p.bottom + ")", xMinor, 4, false, 0);
    addAxis(d3.axisBottom(x), "translate(0," + p.bottom + ")", xMajor, 7, true, 12);
    addAxis(d3.axisTop(x), "translate(0," + p.top + ")", xMinor, 4, false, 0);
    addAxis(d3.axisTop(x), "translate(0," + p.top + ")", xMajor, 7, false, 0);
    addAxis(d3.axisLeft(y), "translate(" + frameLeft + ",0)", p.yMinor, 4, false, 0);
    addAxis(d3.axisLeft(y), "translate(" + frameLeft + ",0)", p.yMajor, 7, true, 5);
    addAxis(d3.axisRight(y), "translate(" + frameRight + ",0)", p.yMinor, 4, false, 0);
    addAxis(d3.axisRight(y), "translate(" + frameRight + ",0)", p.yMajor, 7, false, 0);

    g.append("rect")
        .attr("x", frameLeft).attr("y", p.top)
        .attr("width", frameRight - frameLeft)
        .attr("height", p.bottom - p.top)
        .attr("fill", "none")
        .attr("stroke", "#333")
        .attr("stroke-width", 1.2);
});
</script>
</body>
</html>
